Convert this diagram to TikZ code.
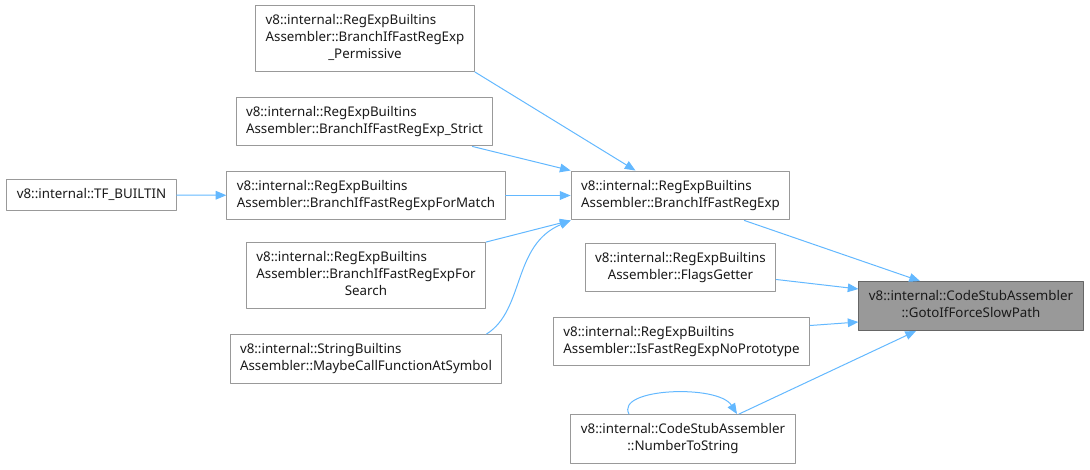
\documentclass[tikz,border=0pt]{standalone}
\usepackage{fontspec}
\setmainfont{Noto Sans}
\usetikzlibrary{arrows.meta,calc}
\definecolor{edgeblue}{HTML}{63B8FF}
\definecolor{boxgray}{HTML}{999999}
\definecolor{txtgray}{HTML}{1A1A1A}
\newcommand{\lbl}[1]{\begin{tabular}{@{}l@{}}#1\end{tabular}}
\newcommand{\lastln}[1]{\multicolumn{1}{@{}c@{}}{#1}}
\tikzset{
  fn/.style={draw=boxgray, line width=0.75pt, fill=white, text=txtgray, inner xsep=7.5pt, inner ysep=5.6pt},
  cur/.style={fn, fill=boxgray, draw=black!60},
  call/.style={-{Triangle[length=8pt,width=6.5pt]}, draw=edgeblue, line width=0.75pt},
}
\begin{document}
\begin{tikzpicture}[x=0.75pt, y=-0.75pt, font=\fontsize{10}{12.75}\selectfont, line join=round, line cap=round]
	\useasboundingbox (0,0) rectangle (1090,469);
	\node[fn] (tf) at (91.5,195) {\lbl{v8::internal::TF\_BUILTIN}};
	\node[fn] (permissive) at (365,38.5) {\lbl{v8::internal::RegExpBuiltins\\ Assembler::BranchIfFastRegExp\\ \lastln{\_Permissive}}};
	\node[fn] (strict) at (364.5,121.5) {\lbl{v8::internal::RegExpBuiltins\\ \lastln{Assembler::BranchIfFastRegExp\_Strict}}};
	\node[fn] (match) at (366,195.5) {\lbl{v8::internal::RegExpBuiltins\\ \lastln{Assembler::BranchIfFastRegExpForMatch}}};
	\node[fn] (search) at (366,275.5) {\lbl{v8::internal::RegExpBuiltins\\ Assembler::BranchIfFastRegExpFor\\ \lastln{Search}}};
	\node[fn] (maybecall) at (366,359) {\lbl{v8::internal::StringBuiltins\\ \lastln{Assembler::MaybeCallFunctionAtSymbol}}};
	\node[fn] (fast) at (680.5,195.5) {\lbl{v8::internal::RegExpBuiltins\\ \lastln{Assembler::BranchIfFastRegExp}}};
	\node[fn] (flags) at (680.5,267.5) {\lbl{v8::internal::RegExpBuiltins\\ \lastln{Assembler::FlagsGetter}}};
	\node[fn] (isfast) at (681.5,341.5) {\lbl{v8::internal::RegExpBuiltins\\ \lastln{Assembler::IsFastRegExpNoPrototype}}};
	\node[fn] (numtostr) at (683,439) {\lbl{v8::internal::CodeStubAssembler\\ \lastln{::NumberToString}}};
	\node[cur] (goto) at (971,306) {\lbl{v8::internal::CodeStubAssembler\\ \lastln{::GotoIfForceSlowPath}}};

	\draw[call] (tf) -- (match);
	\draw[call] (permissive.south east) -- ($(fast.north)+(-45,0)$);
	\draw[call] ($(strict.south east)+(-21,0)$) -- (fast.north west);
	\draw[call] (match) -- (fast);
	\draw[call] (search.north east) -- (fast.south west);
	\draw[call] ($(maybecall.north east)+(-16,0)$) .. controls (525,310) and (512,245) .. (fast.south west);
	\draw[call] ($(fast.south east)+(-46,0)$) -- ($(goto.north)+(-51,0)$);
	\draw[call] ($(flags.east)+(0,12)$) -- ($(goto.west)+(0,-17)$);
	\draw[call] ($(isfast.east)+(0,-16)$) -- ($(goto.west)+(0,16)$);
	\draw[call] ($(numtostr.north)+(56,0)$) -- ($(goto.south)+(-55,0)$);
	\draw[call] ($(numtostr.north)+(-54,0)$) .. controls (615,388) and (718,384) .. ($(numtostr.north)+(54,0)$);
\end{tikzpicture}
\end{document}
